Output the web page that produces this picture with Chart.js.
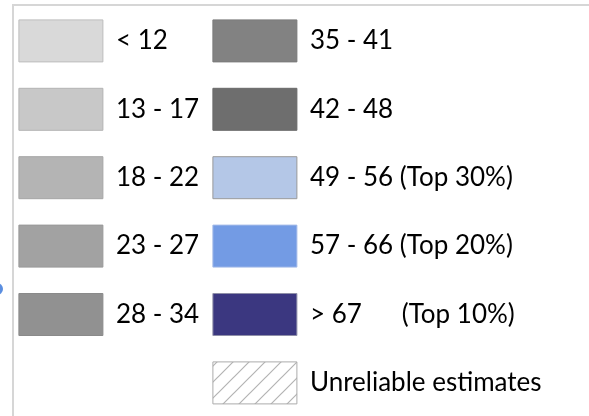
<!DOCTYPE html>
<html>
<head>
<meta charset="utf-8">
<script src="https://cdn.jsdelivr.net/npm/chart.js@4"></script>
<style>
  html, body { margin: 0; padding: 0; background: #fff; width: 589px; height: 416px; overflow: hidden; position: relative; }
  #frame { position: absolute; left: 12px; top: 4px; right: -4px; bottom: -4px; border-left: 2px solid #d6d6d6; border-top: 2px solid #d6d6d6; }
  #dot { position: absolute; left: -9px; top: 283px; width: 12px; height: 12px; border-radius: 50%; background: #5b8ee0; }
  canvas { position: absolute; top: -7px; }
  #colA { left: -8px; }
  #colB { left: 186px; }
</style>
</head>
<body>
<div id="frame"></div>
<div id="dot"></div>
<canvas id="colA" width="240" height="460"></canvas>
<canvas id="colB" width="440" height="460"></canvas>
<script>
// legend classes, split into the two columns of the reference
const leftLabels  = ['< 12', '13 - 17', '18 - 22', '23 - 27', '28 - 34'];
const leftFills   = ['#d9d9d9', '#c8c8c8', '#b4b4b4', '#a2a2a2', '#919191'];
const leftBorders = ['#bdbdbd', '#b3b3b3', '#a6a6a6', '#999999', '#8a8a8a'];

const rightLabels  = ['35 - 41', '42 - 48', '49 - 56 (Top 30%)', '57 - 66 (Top 20%)', '> 67      (Top 10%)', 'Unreliable estimates'];
const rightFills   = ['#828282', '#6e6e6e', '#b4c7e7', '#739be4', '#3b3780', 'hatch'];
const rightBorders = ['#7a7a7a', '#6a6a6a', '#9a9a9a', '#a3bbe8', '#8f8fa8', '#ababab'];

function hatchPattern() {
  const c = document.createElement('canvas');
  c.width = c.height = 16;
  const g = c.getContext('2d');
  g.fillStyle = '#fff';
  g.fillRect(0, 0, 16, 16);
  g.strokeStyle = '#b3b3b3';
  g.lineWidth = 1.2;
  g.beginPath();
  g.moveTo(-2, 18); g.lineTo(18, -2);
  g.moveTo(-2, 2);  g.lineTo(2, -2);
  g.moveTo(14, 18); g.lineTo(18, 14);
  g.stroke();
  return g.createPattern(c, 'repeat');
}

function makeLegend(id, labels, fills, borders) {
  const ctx = document.getElementById(id).getContext('2d');
  return new Chart(ctx, {
    type: 'bar',
    data: {
      labels: [],
      datasets: labels.map((label, i) => ({
        label,
        data: [],
        backgroundColor: fills[i] === 'hatch' ? hatchPattern() : fills[i],
        borderColor: borders[i],
        borderWidth: 1
      }))
    },
    options: {
      responsive: false, animation: false, events: [],
      layout: { padding: { left: 0.5, top: 0.5 } },
      scales: { x: { display: false }, y: { display: false } },
      plugins: {
        tooltip: { enabled: false },
        legend: {
          position: 'left', align: 'start', maxWidth: 1000,
          labels: {
            boxWidth: 84, boxHeight: 42, padding: 26.4,
            color: '#000',
            font: { family: 'Lato', size: 26 }
          }
        }
      }
    }
  });
}

makeLegend('colA', leftLabels, leftFills, leftBorders);
makeLegend('colB', rightLabels, rightFills, rightBorders);
</script>
</body>
</html>
